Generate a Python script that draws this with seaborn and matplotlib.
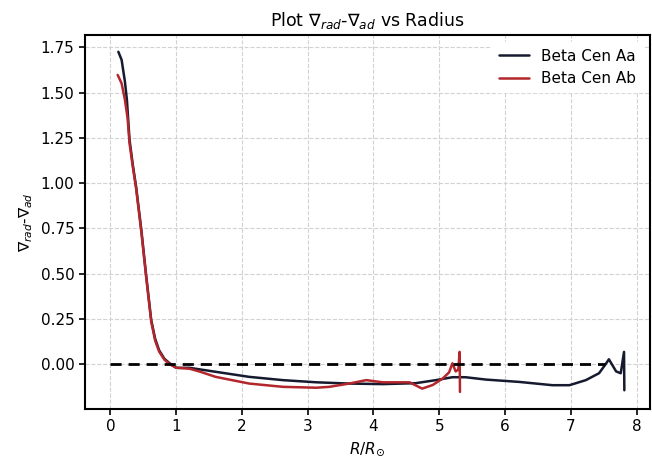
import numpy as np
import pandas as pd
import matplotlib
matplotlib.use("Agg")
import matplotlib.pyplot as plt
import seaborn as sns

# ---- data ----
aa_r = [0.12, 0.17, 0.22, 0.25, 0.29, 0.34, 0.39, 0.47, 0.54, 0.62, 0.68, 0.74, 0.82, 0.90, 1.0,
        1.2, 1.6, 2.11, 2.62, 3.13, 3.63, 4.14, 4.64, 4.95, 5.2, 5.4, 5.71, 6.22, 6.72,
        6.98, 7.23, 7.43, 7.53, 7.58, 7.69, 7.76, 7.81, 7.815]
aa_v = [1.725, 1.68, 1.56, 1.46, 1.24, 1.10, 0.98, 0.74, 0.50, 0.243, 0.14, 0.077, 0.03, 0.005, -0.02,
        -0.02, -0.042, -0.07, -0.088, -0.10, -0.107, -0.11, -0.105, -0.088, -0.072, -0.072, -0.085, -0.098, -0.116,
        -0.116, -0.088, -0.05, 0.0, 0.027, -0.04, -0.05, 0.068, -0.144]

ab_r = [0.11, 0.17, 0.22, 0.26, 0.29, 0.34, 0.39, 0.47, 0.54, 0.62, 0.68, 0.74, 0.82, 0.90, 1.0,
        1.2, 1.35, 1.6, 2.11, 2.62, 3.13, 3.33, 3.63, 3.89, 4.14, 4.55, 4.74, 4.9, 5.05, 5.15,
        5.2, 5.25, 5.29, 5.31, 5.315]
ab_v = [1.597, 1.55, 1.46, 1.36, 1.22, 1.09, 0.97, 0.73, 0.49, 0.235, 0.13, 0.07, 0.025, 0.0, -0.02,
        -0.025, -0.04, -0.07, -0.107, -0.125, -0.13, -0.125, -0.107, -0.088, -0.10, -0.10, -0.135, -0.115, -0.08, -0.045,
        0.005, -0.04, -0.03, 0.068, -0.153]

zero_r = [0.0, 7.52]
zero_v = [0.0, 0.0]

labels = ["Beta Cen Aa", "Beta Cen Ab"]
colors = ["#151a2e", "#b3262c"]

df = pd.concat([
    pd.DataFrame({"r": aa_r, "v": aa_v, "star": labels[0]}),
    pd.DataFrame({"r": ab_r, "v": ab_v, "star": labels[1]}),
], ignore_index=True)

sns.set_style("ticks")
plt.rcParams["font.family"] = ["DejaVu Sans"]
plt.rcParams["text.color"] = "black"
plt.rcParams["axes.labelcolor"] = "black"

fig = plt.figure(figsize=(6.52, 4.70), dpi=100)
ax = fig.add_axes([0.130, 0.130, 0.867, 0.796])

sns.lineplot(data=df, x="r", y="v", hue="star", palette=colors, sort=False,
             estimator=None, linewidth=1.8, ax=ax)
ax.plot(zero_r, zero_v, color="black", linestyle="--", linewidth=2.0, dashes=(4, 2.5))

ax.grid(True, color="#d2d2d2", linestyle="--", linewidth=0.8)
ax.set_axisbelow(True)
for s in ax.spines.values():
    s.set_visible(True)
    s.set_color("black")
    s.set_linewidth(1.5)
ax.tick_params(axis="both", direction="out", length=4, width=1.2, labelsize=11, colors="black")

ax.set_xticks(range(0, 9))
ax.set_yticks([0.0, 0.25, 0.5, 0.75, 1.0, 1.25, 1.5, 1.75])
ax.set_yticklabels(["0.00", "0.25", "0.50", "0.75", "1.00", "1.25", "1.50", "1.75"])

ax.set_title(r"Plot $\nabla_{rad}$-$\nabla_{ad}$ vs Radius", fontsize=12.5, color="black")
ax.set_xlabel(r"$R/R_{\odot}$", fontsize=11)
ax.set_ylabel(r"$\nabla_{rad}$-$\nabla_{ad}$", fontsize=11)

leg = ax.legend(loc="upper right", fontsize=11, frameon=True, framealpha=1,
                edgecolor="white", handlelength=2.0)
leg.set_title(None)
for t in leg.get_texts():
    t.set_color("black")

fig.savefig("out.png", dpi=100)
